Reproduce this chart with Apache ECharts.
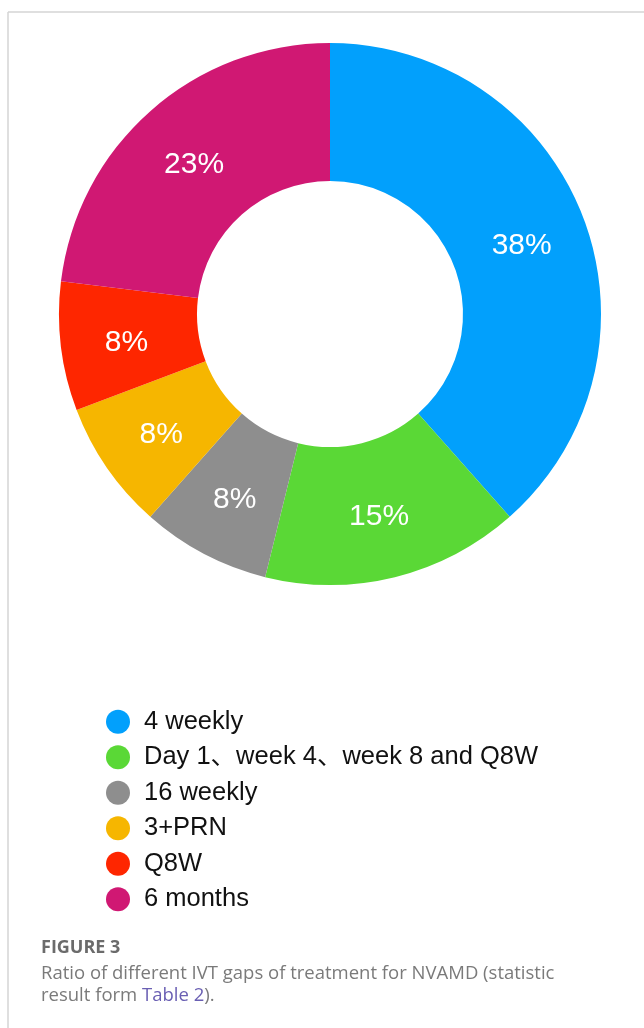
<!DOCTYPE html>
<html>
<head>
<meta charset="utf-8">
<script src="https://cdn.jsdelivr.net/npm/echarts@6/dist/echarts.min.js"></script>
<style>
html, body { margin: 0; padding: 0; background: #fff; }
#ivtGaps { width: 644px; height: 1028px; }
</style>
</head>
<body>
<div id="ivtGaps"></div>
<script>
// 治疗间隔类别
var gapNames = ['4 weekly', 'Day 1、week 4、week 8 and Q8W', '16 weekly', '3+PRN', 'Q8W', '6 months'];
// 病例数 (13例)
var gapCounts = [5, 2, 1, 1, 1, 3];
var gapColors = ['#02a0fc', '#5ad836', '#8e8e8e', '#f6b600', '#fe2600', '#d01873'];

var captionTitle = 'FIGURE 3';
var captionLine1 = 'Ratio of different IVT gaps of treatment for NVAMD (statistic';
var captionLine2 = 'result form {link|Table 2}).';

var pieData = gapNames.map(function (name, i) {
    return { name: name, value: gapCounts[i] };
});

var sansFont = 'Helvetica, Arial, "Liberation Sans", "Noto Sans CJK SC", sans-serif';
var captionFont = '"Open Sans", sans-serif';

var pieOption = {
    animation: false,
    color: gapColors,
    legend: {
        orient: 'vertical',
        left: 106,
        top: 709,
        padding: 0,
        icon: 'circle',
        itemWidth: 24,
        itemHeight: 24,
        itemGap: 10,
        selectedMode: false,
        textStyle: {
            color: '#111',
            fontSize: 25.5,
            lineHeight: 24,
            fontFamily: sansFont,
            padding: [0, 0, 0, 9]
        },
        data: gapNames
    },
    series: [
        {
            type: 'pie',
            center: [330, 314],
            radius: [133, 271],
            startAngle: 90,
            clockwise: true,
            silent: true,
            label: {
                show: true,
                position: 'inside',
                color: '#fff',
                fontSize: 30,
                fontFamily: sansFont,
                offset: [0, 4],
                formatter: function (p) {
                    return Math.round(p.percent) + '%';
                }
            },
            labelLine: { show: false },
            data: pieData
        }
    ],
    graphic: [
        // 外框
        { type: 'line', shape: { x1: 8, y1: 12, x2: 644, y2: 12 }, style: { stroke: '#d4d4d4', lineWidth: 1.5 } },
        { type: 'line', shape: { x1: 8, y1: 12, x2: 8, y2: 1028 }, style: { stroke: '#d4d4d4', lineWidth: 1.5 } },
        // 图注
        {
            type: 'text',
            style: { x: 41, y: 948, verticalAlign: 'middle', text: captionTitle, fill: '#6b6b6b', font: 'bold 18px ' + captionFont }
        },
        {
            type: 'text',
            style: { x: 41, y: 974, verticalAlign: 'middle', text: captionLine1, fill: '#7a7a7a', font: '18.5px ' + captionFont }
        },
        {
            type: 'text',
            style: {
                x: 41, y: 996, verticalAlign: 'middle',
                text: captionLine2, fill: '#7a7a7a', font: '18.5px ' + captionFont,
                rich: { link: { fill: '#6a5fb3', font: '18.5px ' + captionFont } }
            }
        }
    ]
};

var pie = echarts.init(document.getElementById('ivtGaps'));
pie.setOption(pieOption);
</script>
</body>
</html>
